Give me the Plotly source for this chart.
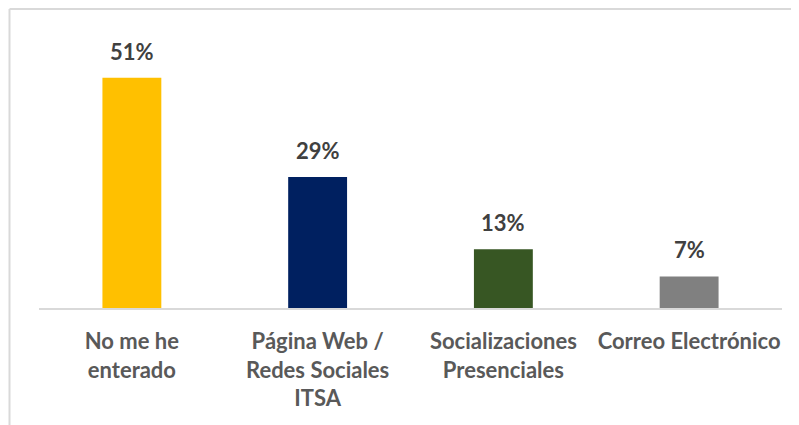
import plotly.graph_objects as go

categories = ["No me he<br>enterado", "Página Web /<br>Redes Sociales<br>ITSA",
              "Socializaciones<br>Presenciales", "Correo Electrónico"]
values = [51, 29, 13, 7]
value_labels = ["51%", "29%", "13%", "7%"]
bar_colors = ["#FFC000", "#002060", "#375623", "#808080"]

fig = go.Figure()

fig.add_trace(go.Bar(
    x=categories,
    y=values,
    marker=dict(color=bar_colors, line=dict(width=0)),
    width=0.317,
    showlegend=False,
    hoverinfo="skip",
))

# value labels above bars
for cat, val, lab in zip(categories, values, value_labels):
    fig.add_annotation(
        x=cat, y=val, text=lab, showarrow=False,
        yanchor="bottom", yshift=11,
        font=dict(family="Lato", size=22, color="#404040", weight="bold"),
    )

# outer chart frame (only top and left edges visible)
fig.add_shape(type="line", xref="paper", yref="paper",
              x0=-0.0397, x1=1.05, y0=1.1033, y1=1.1033,
              line=dict(color="#D9D9D9", width=2))
fig.add_shape(type="line", xref="paper", yref="paper",
              x0=-0.0397, x1=-0.0397, y0=1.1033, y1=-0.5,
              line=dict(color="#D9D9D9", width=2))

# page body adds an 8px offset, so the figure is sized to fit the window
fig.update_layout(
    width=791, height=417,
    margin=dict(l=31, r=17, t=29, b=117),
    plot_bgcolor="white",
    paper_bgcolor="white",
    xaxis=dict(
        showgrid=False, zeroline=False,
        showline=True, linecolor="#D9D9D9", linewidth=1.5,
        ticks="outside", ticklen=13, tickcolor="rgba(0,0,0,0)",
        tickfont=dict(family="Lato", size=22, color="#595959", weight="bold"),
    ),
    yaxis=dict(
        range=[0, 60], visible=False,
        showgrid=False, zeroline=False,
    ),
)

fig.write_html("out.html")
